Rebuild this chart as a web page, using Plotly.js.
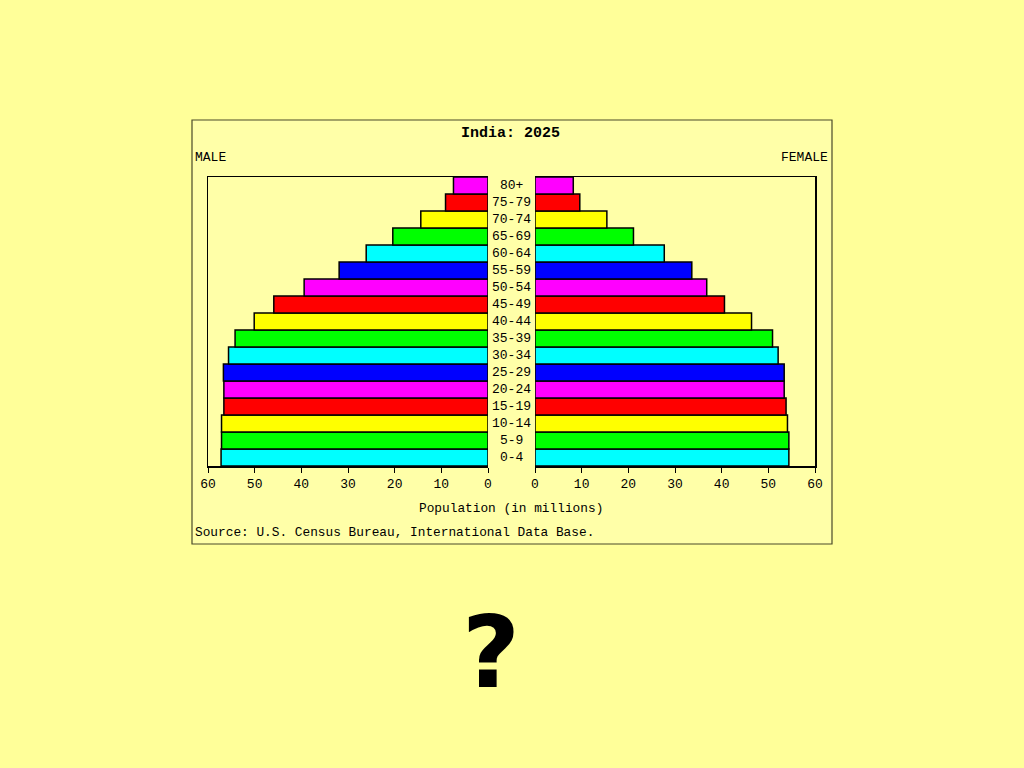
<!DOCTYPE html>
<html>
<head>
<meta charset="utf-8">
<script src="https://cdn.plot.ly/plotly-3.0.1.min.js"></script>
<style>
html,body{margin:0;padding:0;background:#FFFF99;}
#chart{width:1024px;height:768px;}
</style>
</head>
<body>
<div id="chart"></div>
<script>
// Data (millions), bottom (0-4) to top (80+)
const ageGroups = ["0-4","5-9","10-14","15-19","20-24","25-29","30-34","35-39","40-44","45-49","50-54","55-59","60-64","65-69","70-74","75-79","80+"];
const male   = [57.2,57.1,57.1,56.6,56.6,56.7,55.6,54.2,50.1,45.9,39.4,31.9,26.1,20.4,14.4,9.1,7.4];
const female = [54.4,54.4,54.1,53.8,53.4,53.4,52.1,50.9,46.4,40.6,36.8,33.6,27.7,21.1,15.4,9.6,8.2];
const xTicks = [0,10,20,30,40,50,60];
const palette = ["#00FFFF","#00FF00","#FFFF00","#FF0000","#FF00FF","#0000FF"];

const barColors = ageGroups.map((_, i) => palette[i % palette.length]);
const W = 1024, H = 768;
const px = v => v / W;
const py = v => 1 - v / H;
const mono = "Liberation Mono, DejaVu Sans Mono, monospace";

const barStyle = {color: barColors, line: {color: "#000000", width: 1.5}};

const traces = [
  {type: "bar", orientation: "h", x: male, y: ageGroups, xaxis: "x", yaxis: "y",
   marker: barStyle, hoverinfo: "skip", showlegend: false},
  {type: "bar", orientation: "h", x: female, y: ageGroups, xaxis: "x2", yaxis: "y2",
   marker: barStyle, hoverinfo: "skip", showlegend: false}
];

const axisCommon = {
  tickvals: xTicks, ticktext: xTicks.map(String),
  ticks: "outside", ticklen: 5, tickwidth: 1, tickcolor: "#000",
  showline: true, linecolor: "#000", linewidth: 1.5, mirror: true,
  showgrid: false, zeroline: false,
  tickfont: {family: mono, size: 13, color: "#000"},
  fixedrange: true
};

const yCommon = {
  type: "category", categoryorder: "array", categoryarray: ageGroups,
  range: [-0.5, ageGroups.length - 0.5],
  domain: [py(466), py(177)],
  showticklabels: false, ticks: "", showgrid: false, zeroline: false,
  showline: true, linecolor: "#000", linewidth: 1.5, fixedrange: true
};

const annotations = ageGroups.map(a => ({
  x: px(511.5), xref: "paper", y: a, yref: "y",
  text: a, showarrow: false, xanchor: "center", yanchor: "middle",
  font: {family: mono, size: 13, color: "#000"}
}));

annotations.push(
  {x: px(510), y: py(134), xref: "paper", yref: "paper", text: "<b>India: 2025</b>",
   showarrow: false, xanchor: "center", yanchor: "middle",
   font: {family: mono, size: 15, color: "#000"}},
  {x: px(193), y: py(158), xref: "paper", yref: "paper", text: "MALE",
   showarrow: false, xanchor: "left", yanchor: "middle",
   font: {family: mono, size: 13, color: "#000"}},
  {x: px(830), y: py(158), xref: "paper", yref: "paper", text: "FEMALE",
   showarrow: false, xanchor: "right", yanchor: "middle",
   font: {family: mono, size: 13, color: "#000"}},
  {x: px(511), y: py(508), xref: "paper", yref: "paper", text: "Population (in millions)",
   showarrow: false, xanchor: "center", yanchor: "middle",
   font: {family: mono, size: 12.8, color: "#000"}},
  {x: px(193), y: py(532), xref: "paper", yref: "paper", text: "Source: U.S. Census Bureau, International Data Base.",
   showarrow: false, xanchor: "left", yanchor: "middle",
   font: {family: mono, size: 12.8, color: "#000"}},
  {x: px(491), y: py(652), xref: "paper", yref: "paper", text: "<b>?</b>",
   showarrow: false, xanchor: "center", yanchor: "middle",
   font: {family: "DejaVu Sans, sans-serif", size: 100, color: "#000"}}
);

const layout = {
  width: W, height: H,
  margin: {l: 0, r: 0, t: 0, b: 0, pad: 0},
  paper_bgcolor: "#FFFF99", plot_bgcolor: "rgba(0,0,0,0)",
  bargap: 0,
  showlegend: false,
  xaxis: Object.assign({}, axisCommon, {domain: [px(208), px(488)], range: [60, 0], anchor: "y"}),
  xaxis2: Object.assign({}, axisCommon, {domain: [px(535), px(815)], range: [0, 60], anchor: "y2"}),
  yaxis: Object.assign({}, yCommon, {anchor: "x", side: "left"}),
  yaxis2: Object.assign({}, yCommon, {anchor: "x2", side: "right", matches: "y"}),
  shapes: [
    {type: "rect", xref: "paper", yref: "paper", x0: px(192), x1: px(832), y0: py(544), y1: py(120),
     fillcolor: "#FFFFA8", line: {color: "#4A4A2A", width: 1.2}, layer: "below"}
  ],
  annotations: annotations
};

Plotly.newPlot("chart", traces, layout, {staticPlot: true, displayModeBar: false});
</script>
</body>
</html>
